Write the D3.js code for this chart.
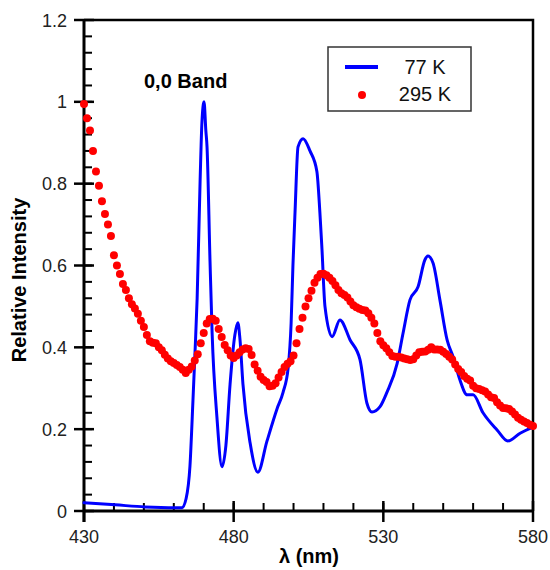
<!DOCTYPE html>
<html>
<head>
<meta charset="utf-8">
<script src="https://cdn.jsdelivr.net/npm/d3@7"></script>
<style>
  html, body { margin: 0; padding: 0; background: #fff; }
  svg { display: block; font-family: "Liberation Sans", Arial, sans-serif; }
</style>
</head>
<body>
<svg id="chart" width="550" height="570"></svg>
<script>
// 77 K spectrum (continuous line)
const wl77 = [430, 440.4, 450.4, 460.4, 462.7, 464.1, 465.4, 466.4, 467.1, 467.8, 468.8, 469.4, 470.1, 470.7, 471.1, 472.1, 472.8, 474.4, 476.1, 477.4, 478.8, 480.4, 481.4, 482.1, 483.1, 485.5, 488.1, 491.1, 494.5, 496.5, 498.2, 499.2, 499.8, 500.5, 501.5, 503.2, 505.5, 507.8, 508.8, 509.5, 510.5, 512.9, 515.5, 518.9, 522.2, 524.5, 526.2, 528.9, 531.2, 534.6, 536.6, 538.9, 541.6, 543.9, 544.9, 546.6, 548.9, 551.3, 553.3, 555.6, 558.0, 560.0, 563.3, 568.0, 571.6, 575.7, 580];
const int77 = [0.02, 0.015, 0.01, 0.008, 0.008, 0.03, 0.11, 0.27, 0.39, 0.52, 0.81, 0.95, 1.0, 0.93, 0.89, 0.61, 0.435, 0.23, 0.108, 0.16, 0.31, 0.43, 0.46, 0.42, 0.31, 0.166, 0.095, 0.17, 0.25, 0.29, 0.35, 0.46, 0.60, 0.73, 0.89, 0.91, 0.88, 0.83, 0.73, 0.64, 0.50, 0.426, 0.467, 0.418, 0.37, 0.264, 0.242, 0.255, 0.29, 0.36, 0.435, 0.516, 0.548, 0.614, 0.623, 0.606, 0.516, 0.418, 0.377, 0.32, 0.284, 0.284, 0.24, 0.198, 0.171, 0.19, 0.205];

// 295 K spectrum (dots, 430-580 nm in 1 nm steps)
const wl295Start = 430;
const int295 = [
  0.995, 0.96, 0.93, 0.88, 0.83, 0.795, 0.757, 0.726, 0.70, 0.672,
  0.625, 0.60, 0.579, 0.555, 0.54, 0.52, 0.505, 0.495, 0.482, 0.465,
  0.45, 0.43, 0.415, 0.411, 0.41, 0.40, 0.393, 0.382, 0.373, 0.366,
  0.362, 0.357, 0.352, 0.345, 0.337, 0.345, 0.353, 0.368, 0.383, 0.41,
  0.435, 0.458, 0.469, 0.47, 0.465, 0.445, 0.425, 0.406, 0.393, 0.38,
  0.374, 0.38, 0.388, 0.395, 0.398, 0.396, 0.381, 0.358, 0.343, 0.328,
  0.32, 0.315, 0.305, 0.306, 0.312, 0.326, 0.34, 0.352, 0.36, 0.366,
  0.38, 0.41, 0.445, 0.472, 0.50, 0.52, 0.538, 0.558, 0.57, 0.579,
  0.58, 0.576, 0.57, 0.562, 0.552, 0.54, 0.532, 0.528, 0.522, 0.512,
  0.503, 0.498, 0.494, 0.491, 0.49, 0.483, 0.472, 0.458, 0.435, 0.415,
  0.405, 0.398, 0.388, 0.379, 0.377, 0.377, 0.375, 0.373, 0.371, 0.369,
  0.371, 0.38, 0.388, 0.389, 0.39, 0.394, 0.40, 0.395, 0.395, 0.394,
  0.389, 0.384, 0.377, 0.37, 0.358, 0.347, 0.34, 0.33, 0.323, 0.319,
  0.306, 0.30, 0.298, 0.295, 0.292, 0.285, 0.278, 0.276, 0.266, 0.258,
  0.252, 0.251, 0.249, 0.243, 0.236, 0.228, 0.223, 0.219, 0.215, 0.211,
  0.208
];

const xMajorTicks = [430, 480, 530, 580];
const xMinorTicks = d3.range(430, 581, 10);
const yMajorTicks = [0, 0.2, 0.4, 0.6, 0.8, 1, 1.2];
const yMinorTicks = d3.range(0, 30).map(i => i * 0.04);
const yTickLabels = ["0", "0.2", "0.4", "0.6", "0.8", "1", "1.2"];
const seriesNames = ["77 K", "295 K"];

(function () {
const svg = d3.select("#chart");
const pL = 84, pR = 533, pT = 20, pB = 511;

const x = d3.scaleLinear().domain([430, 580]).range([pL, pR]);
const y = d3.scaleLinear().domain([0, 1.2]).range([pB, pT]);

// frame (top and right)
svg.append("path")
  .attr("d", `M${pL},${pT}H${pR}V${pB}`)
  .attr("fill", "none").attr("stroke", "#000").attr("stroke-width", 2.5);

// x axis: minor ticks inward
const gx = svg.append("g");
gx.selectAll("line.minor").data(xMinorTicks).join("line").attr("class", "minor")
  .attr("x1", d => x(d)).attr("x2", d => x(d))
  .attr("y1", pB).attr("y2", pB - 8)
  .attr("stroke", "#000").attr("stroke-width", 2);
gx.selectAll("line.major").data(xMajorTicks).join("line").attr("class", "major")
  .attr("x1", d => x(d)).attr("x2", d => x(d))
  .attr("y1", pB - 10).attr("y2", pB + 11)
  .attr("stroke", "#000").attr("stroke-width", 2.5);
gx.selectAll("text").data(xMajorTicks).join("text")
  .attr("x", d => x(d)).attr("y", pB + 32)
  .attr("text-anchor", "middle").attr("font-size", 18).attr("fill", "#222")
  .text(d => d);
gx.append("line").attr("x1", pL - 1).attr("x2", pR + 1)
  .attr("y1", pB).attr("y2", pB)
  .attr("stroke", "#000").attr("stroke-width", 3);

// y axis
const gy = svg.append("g");
gy.selectAll("line.minor").data(yMinorTicks).join("line").attr("class", "minor")
  .attr("x1", pL).attr("x2", pL + 8)
  .attr("y1", d => y(d)).attr("y2", d => y(d))
  .attr("stroke", "#000").attr("stroke-width", 2);
gy.selectAll("line.major").data(yMajorTicks).join("line").attr("class", "major")
  .attr("x1", pL - 10).attr("x2", pL + 10)
  .attr("y1", d => y(d)).attr("y2", d => y(d))
  .attr("stroke", "#000").attr("stroke-width", 2.5);
gy.selectAll("text").data(yMajorTicks).join("text")
  .attr("x", 67).attr("y", d => y(d) + 6.5)
  .attr("text-anchor", "end").attr("font-size", 18).attr("fill", "#222")
  .text((d, i) => yTickLabels[i]);
gy.append("line").attr("x1", pL).attr("x2", pL)
  .attr("y1", pT - 1).attr("y2", pB + 11)
  .attr("stroke", "#000").attr("stroke-width", 3);

// axis titles
svg.append("text").attr("x", 309).attr("y", 563)
  .attr("text-anchor", "middle").attr("font-size", 20).attr("font-weight", "bold")
  .text("λ (nm)");
svg.append("text").attr("transform", "translate(26,280) rotate(-90)")
  .attr("text-anchor", "middle").attr("font-size", 20).attr("font-weight", "bold")
  .text("Relative Intensity");

// 77 K line
const line = d3.line().x((d, i) => x(wl77[i])).y(d => y(d)).curve(d3.curveMonotoneX);
svg.append("path").datum(int77)
  .attr("d", line).attr("fill", "none")
  .attr("stroke", "#0000ff").attr("stroke-width", 3)
  .attr("stroke-linejoin", "round").attr("stroke-linecap", "round");

// 295 K dots
svg.append("g").selectAll("circle").data(int295).join("circle")
  .attr("cx", (d, i) => x(wl295Start + i)).attr("cy", d => y(d))
  .attr("r", 4).attr("fill", "#ff0000");

// annotation
svg.append("text").attr("x", 144).attr("y", 88)
  .attr("font-size", 20).attr("font-weight", "bold").text("0,0 Band");

// legend
const lg = svg.append("g");
lg.append("rect").attr("x", 328).attr("y", 47).attr("width", 143).attr("height", 64)
  .attr("fill", "#fff").attr("stroke", "#333").attr("stroke-width", 1.5);
lg.append("line").attr("x1", 345).attr("x2", 378).attr("y1", 67).attr("y2", 67)
  .attr("stroke", "#0000ff").attr("stroke-width", 4);
lg.append("circle").attr("cx", 362).attr("cy", 95).attr("r", 4).attr("fill", "#ff0000");
lg.selectAll("text").data(seriesNames).join("text")
  .attr("x", 425).attr("y", (d, i) => 74 + i * 27)
  .attr("text-anchor", "middle").attr("font-size", 20).attr("fill", "#111")
  .text(d => d);
})();
</script>
</body>
</html>
